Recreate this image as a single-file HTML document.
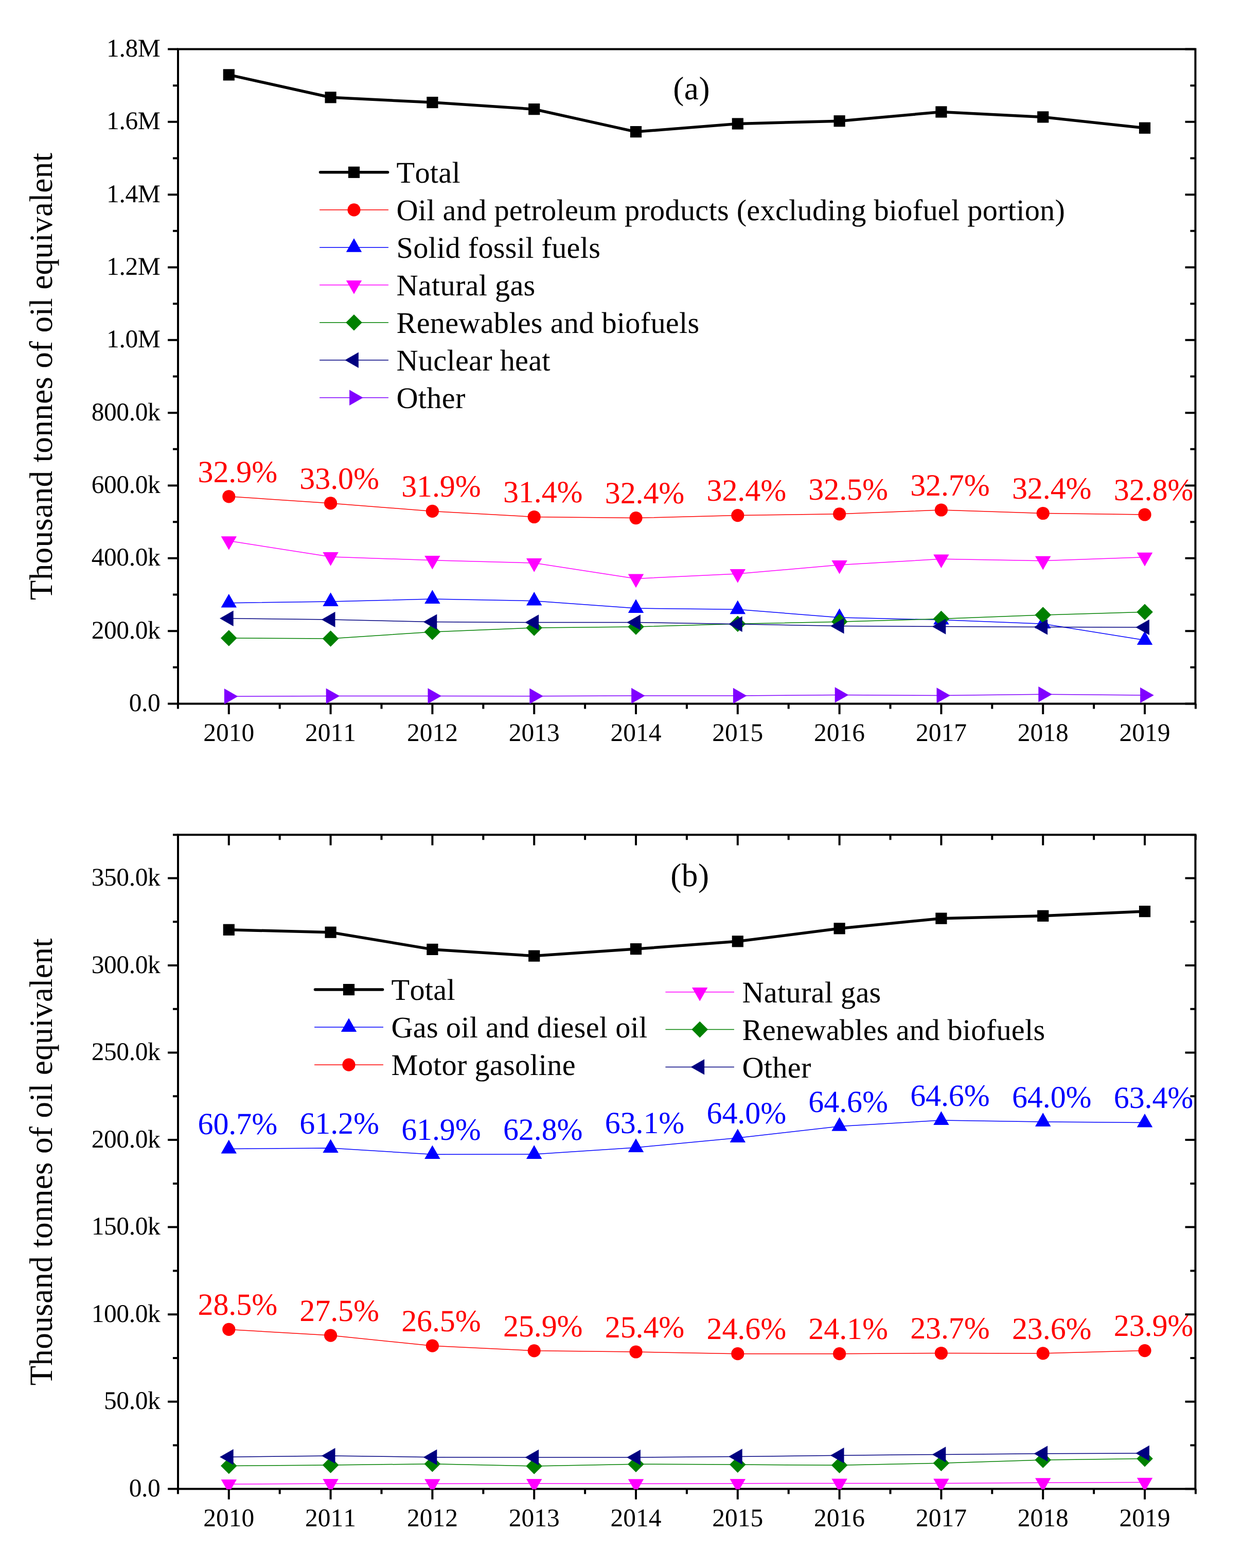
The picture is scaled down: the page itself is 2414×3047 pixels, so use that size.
<!DOCTYPE html>
<html lang="en">
<head>
<meta charset="utf-8">
<title>Energy consumption charts</title>
<style>
html,body{margin:0;padding:0;background:#fff;}
body{width:2414px;height:3047px;overflow:hidden;}
svg{display:block;}
svg text{font-kerning:none;font-variant-ligatures:none;text-rendering:geometricPrecision;font-family:"Liberation Serif","Times New Roman",Times,serif;fill:#000;}
</style>
</head>
<body>
<svg width="2414" height="3047" viewBox="0 0 2414 3047">
<rect width="2414" height="3047" fill="#fff"/>
<defs>
<clipPath id="clipA"><rect x="346.0" y="95.5" width="1977.4" height="1272.6"/></clipPath>
<clipPath id="clipB"><rect x="346.0" y="1622.2" width="1977.4" height="1271.7"/></clipPath>
</defs>
<!-- panel a -->
<g stroke="#000000" stroke-width="4.0" fill="none" stroke-linecap="butt">
<rect x="346.0" y="95.5" width="1977.4" height="1272.0" stroke-linejoin="miter"/>
<path d="M326.1 1367.5H346.0M2323.4 1367.5H2303.5"/>
<path d="M326.1 1226.2H346.0M2323.4 1226.2H2303.5"/>
<path d="M326.1 1084.8H346.0M2323.4 1084.8H2303.5"/>
<path d="M326.1 943.5H346.0M2323.4 943.5H2303.5"/>
<path d="M326.1 802.2H346.0M2323.4 802.2H2303.5"/>
<path d="M326.1 660.8H346.0M2323.4 660.8H2303.5"/>
<path d="M326.1 519.5H346.0M2323.4 519.5H2303.5"/>
<path d="M326.1 378.2H346.0M2323.4 378.2H2303.5"/>
<path d="M326.1 236.8H346.0M2323.4 236.8H2303.5"/>
<path d="M326.1 95.5H346.0M2323.4 95.5H2303.5"/>
<path d="M336.0 1296.8H346.0M2323.4 1296.8H2313.4"/>
<path d="M336.0 1155.5H346.0M2323.4 1155.5H2313.4"/>
<path d="M336.0 1014.2H346.0M2323.4 1014.2H2313.4"/>
<path d="M336.0 872.8H346.0M2323.4 872.8H2313.4"/>
<path d="M336.0 731.5H346.0M2323.4 731.5H2313.4"/>
<path d="M336.0 590.2H346.0M2323.4 590.2H2313.4"/>
<path d="M336.0 448.8H346.0M2323.4 448.8H2313.4"/>
<path d="M336.0 307.5H346.0M2323.4 307.5H2313.4"/>
<path d="M336.0 166.2H346.0M2323.4 166.2H2313.4"/>
<path d="M444.8 1367.5V1387.9"/>
<path d="M642.6 1367.5V1387.9"/>
<path d="M840.4 1367.5V1387.9"/>
<path d="M1038.2 1367.5V1387.9"/>
<path d="M1236.0 1367.5V1387.9"/>
<path d="M1433.8 1367.5V1387.9"/>
<path d="M1631.6 1367.5V1387.9"/>
<path d="M1829.4 1367.5V1387.9"/>
<path d="M2027.2 1367.5V1387.9"/>
<path d="M2225.0 1367.5V1387.9"/>
<path d="M345.9 1367.5V1377.5"/>
<path d="M543.7 1367.5V1377.5"/>
<path d="M741.5 1367.5V1377.5"/>
<path d="M939.3 1367.5V1377.5"/>
<path d="M1137.1 1367.5V1377.5"/>
<path d="M1334.9 1367.5V1377.5"/>
<path d="M1532.7 1367.5V1377.5"/>
<path d="M1730.5 1367.5V1377.5"/>
<path d="M1928.3 1367.5V1377.5"/>
<path d="M2126.1 1367.5V1377.5"/>
<path d="M2323.9 1367.5V1377.5"/>
</g>
<text x="311.4" y="1382.1" font-size="49.5" letter-spacing="-0.4" text-anchor="end">0.0</text>
<text x="311.4" y="1240.8" font-size="49.5" letter-spacing="-0.4" text-anchor="end">200.0k</text>
<text x="311.4" y="1099.4" font-size="49.5" letter-spacing="-0.4" text-anchor="end">400.0k</text>
<text x="311.4" y="958.1" font-size="49.5" letter-spacing="-0.4" text-anchor="end">600.0k</text>
<text x="311.4" y="816.8" font-size="49.5" letter-spacing="-0.4" text-anchor="end">800.0k</text>
<text x="311.4" y="675.4" font-size="49.5" letter-spacing="-0.4" text-anchor="end">1.0M</text>
<text x="311.4" y="534.1" font-size="49.5" letter-spacing="-0.4" text-anchor="end">1.2M</text>
<text x="311.4" y="392.8" font-size="49.5" letter-spacing="-0.4" text-anchor="end">1.4M</text>
<text x="311.4" y="251.4" font-size="49.5" letter-spacing="-0.4" text-anchor="end">1.6M</text>
<text x="311.4" y="110.1" font-size="49.5" letter-spacing="-0.4" text-anchor="end">1.8M</text>
<text x="444.8" y="1439.75" font-size="49.5" text-anchor="middle">2010</text>
<text x="642.6" y="1439.75" font-size="49.5" text-anchor="middle">2011</text>
<text x="840.4" y="1439.75" font-size="49.5" text-anchor="middle">2012</text>
<text x="1038.2" y="1439.75" font-size="49.5" text-anchor="middle">2013</text>
<text x="1236.0" y="1439.75" font-size="49.5" text-anchor="middle">2014</text>
<text x="1433.8" y="1439.75" font-size="49.5" text-anchor="middle">2015</text>
<text x="1631.6" y="1439.75" font-size="49.5" text-anchor="middle">2016</text>
<text x="1829.4" y="1439.75" font-size="49.5" text-anchor="middle">2017</text>
<text x="2027.2" y="1439.75" font-size="49.5" text-anchor="middle">2018</text>
<text x="2225.0" y="1439.75" font-size="49.5" text-anchor="middle">2019</text>
<text transform="translate(101.3 731.5) rotate(-90)" font-size="63.3" letter-spacing="0.245" text-anchor="middle">Thousand tonnes of oil equivalent</text>
<g clip-path="url(#clipA)">
<polyline points="444.8,145.4 642.6,189.3 840.4,199.1 1038.2,212.2 1236.0,256.1 1433.8,240.5 1631.6,235.2 1829.4,217.5 2027.2,227.4 2225.0,248.7" fill="none" stroke="#000000" stroke-width="5.5" stroke-linejoin="round"/>
<rect x="433.7" y="134.3" width="22.2" height="22.2" fill="#000000"/>
<rect x="631.5" y="178.2" width="22.2" height="22.2" fill="#000000"/>
<rect x="829.3" y="188.0" width="22.2" height="22.2" fill="#000000"/>
<rect x="1027.1" y="201.1" width="22.2" height="22.2" fill="#000000"/>
<rect x="1224.9" y="245.0" width="22.2" height="22.2" fill="#000000"/>
<rect x="1422.7" y="229.4" width="22.2" height="22.2" fill="#000000"/>
<rect x="1620.5" y="224.1" width="22.2" height="22.2" fill="#000000"/>
<rect x="1818.3" y="206.4" width="22.2" height="22.2" fill="#000000"/>
<rect x="2016.1" y="216.3" width="22.2" height="22.2" fill="#000000"/>
<rect x="2213.9" y="237.6" width="22.2" height="22.2" fill="#000000"/>
<polyline points="444.8,964.8 642.6,977.9 840.4,993.4 1038.2,1004.5 1236.0,1006.6 1433.8,1001.6 1631.6,998.8 1829.4,991.0 2027.2,997.5 2225.0,1000.0" fill="none" stroke="#FF0000" stroke-width="1.5" stroke-linejoin="round"/>
<circle cx="444.8" cy="964.8" r="12.6" fill="#FF0000"/>
<circle cx="642.6" cy="977.9" r="12.6" fill="#FF0000"/>
<circle cx="840.4" cy="993.4" r="12.6" fill="#FF0000"/>
<circle cx="1038.2" cy="1004.5" r="12.6" fill="#FF0000"/>
<circle cx="1236.0" cy="1006.6" r="12.6" fill="#FF0000"/>
<circle cx="1433.8" cy="1001.6" r="12.6" fill="#FF0000"/>
<circle cx="1631.6" cy="998.8" r="12.6" fill="#FF0000"/>
<circle cx="1829.4" cy="991.0" r="12.6" fill="#FF0000"/>
<circle cx="2027.2" cy="997.5" r="12.6" fill="#FF0000"/>
<circle cx="2225.0" cy="1000.0" r="12.6" fill="#FF0000"/>
<polyline points="444.8,1171.7 642.6,1169.0 840.4,1164.0 1038.2,1167.7 1236.0,1182.0 1433.8,1184.3 1631.6,1200.0 1829.4,1204.5 2027.2,1212.3 2225.0,1244.0" fill="none" stroke="#0000FF" stroke-width="1.5" stroke-linejoin="round"/>
<polygon points="444.8,1154.0 460.0,1180.6 429.6,1180.6" fill="#0000FF"/>
<polygon points="642.6,1151.3 657.8,1177.9 627.4,1177.9" fill="#0000FF"/>
<polygon points="840.4,1146.3 855.6,1172.9 825.2,1172.9" fill="#0000FF"/>
<polygon points="1038.2,1150.0 1053.4,1176.6 1023.0,1176.6" fill="#0000FF"/>
<polygon points="1236.0,1164.3 1251.2,1190.9 1220.8,1190.9" fill="#0000FF"/>
<polygon points="1433.8,1166.6 1449.0,1193.2 1418.6,1193.2" fill="#0000FF"/>
<polygon points="1631.6,1182.3 1646.8,1208.9 1616.4,1208.9" fill="#0000FF"/>
<polygon points="1829.4,1186.8 1844.6,1213.4 1814.2,1213.4" fill="#0000FF"/>
<polygon points="2027.2,1194.6 2042.4,1221.2 2012.0,1221.2" fill="#0000FF"/>
<polygon points="2225.0,1226.3 2240.2,1252.9 2209.8,1252.9" fill="#0000FF"/>
<polyline points="444.8,1051.1 642.6,1082.0 840.4,1088.8 1038.2,1094.0 1236.0,1124.5 1433.8,1115.0 1631.6,1097.8 1829.4,1086.3 2027.2,1089.7 2225.0,1082.7" fill="none" stroke="#FF00FF" stroke-width="1.5" stroke-linejoin="round"/>
<polygon points="444.8,1068.8 460.0,1042.2 429.6,1042.2" fill="#FF00FF"/>
<polygon points="642.6,1099.7 657.8,1073.1 627.4,1073.1" fill="#FF00FF"/>
<polygon points="840.4,1106.5 855.6,1079.9 825.2,1079.9" fill="#FF00FF"/>
<polygon points="1038.2,1111.7 1053.4,1085.1 1023.0,1085.1" fill="#FF00FF"/>
<polygon points="1236.0,1142.2 1251.2,1115.6 1220.8,1115.6" fill="#FF00FF"/>
<polygon points="1433.8,1132.7 1449.0,1106.1 1418.6,1106.1" fill="#FF00FF"/>
<polygon points="1631.6,1115.5 1646.8,1088.9 1616.4,1088.9" fill="#FF00FF"/>
<polygon points="1829.4,1104.0 1844.6,1077.4 1814.2,1077.4" fill="#FF00FF"/>
<polygon points="2027.2,1107.4 2042.4,1080.8 2012.0,1080.8" fill="#FF00FF"/>
<polygon points="2225.0,1100.4 2240.2,1073.8 2209.8,1073.8" fill="#FF00FF"/>
<polyline points="444.8,1240.0 642.6,1241.0 840.4,1227.9 1038.2,1219.9 1236.0,1218.0 1433.8,1212.3 1631.6,1208.2 1829.4,1202.5 2027.2,1195.1 2225.0,1189.3" fill="none" stroke="#008000" stroke-width="1.5" stroke-linejoin="round"/>
<polygon points="444.8,1224.2 460.6,1240.0 444.8,1255.8 429.0,1240.0" fill="#008000"/>
<polygon points="642.6,1225.2 658.4,1241.0 642.6,1256.8 626.8,1241.0" fill="#008000"/>
<polygon points="840.4,1212.1 856.2,1227.9 840.4,1243.7 824.6,1227.9" fill="#008000"/>
<polygon points="1038.2,1204.1 1054.0,1219.9 1038.2,1235.7 1022.4,1219.9" fill="#008000"/>
<polygon points="1236.0,1202.2 1251.8,1218.0 1236.0,1233.8 1220.2,1218.0" fill="#008000"/>
<polygon points="1433.8,1196.5 1449.6,1212.3 1433.8,1228.1 1418.0,1212.3" fill="#008000"/>
<polygon points="1631.6,1192.4 1647.4,1208.2 1631.6,1224.0 1615.8,1208.2" fill="#008000"/>
<polygon points="1829.4,1186.7 1845.2,1202.5 1829.4,1218.3 1813.6,1202.5" fill="#008000"/>
<polygon points="2027.2,1179.3 2043.0,1195.1 2027.2,1210.9 2011.4,1195.1" fill="#008000"/>
<polygon points="2225.0,1173.5 2240.8,1189.3 2225.0,1205.1 2209.2,1189.3" fill="#008000"/>
<polyline points="444.8,1201.8 642.6,1203.9 840.4,1208.6 1038.2,1209.5 1236.0,1209.4 1433.8,1212.7 1631.6,1216.4 1829.4,1217.6 2027.2,1218.4 2225.0,1218.9" fill="none" stroke="#000080" stroke-width="1.5" stroke-linejoin="round"/>
<polygon points="427.1,1201.8 453.7,1186.6 453.7,1217.0" fill="#000080"/>
<polygon points="624.9,1203.9 651.5,1188.7 651.5,1219.1" fill="#000080"/>
<polygon points="822.7,1208.6 849.3,1193.4 849.3,1223.8" fill="#000080"/>
<polygon points="1020.5,1209.5 1047.1,1194.3 1047.1,1224.7" fill="#000080"/>
<polygon points="1218.3,1209.4 1244.9,1194.2 1244.9,1224.6" fill="#000080"/>
<polygon points="1416.1,1212.7 1442.7,1197.5 1442.7,1227.9" fill="#000080"/>
<polygon points="1613.9,1216.4 1640.5,1201.2 1640.5,1231.6" fill="#000080"/>
<polygon points="1811.7,1217.6 1838.3,1202.4 1838.3,1232.8" fill="#000080"/>
<polygon points="2009.5,1218.4 2036.1,1203.2 2036.1,1233.6" fill="#000080"/>
<polygon points="2207.3,1218.9 2233.9,1203.7 2233.9,1234.1" fill="#000080"/>
<polyline points="444.8,1353.3 642.6,1352.6 840.4,1352.4 1038.2,1352.8 1236.0,1352.0 1433.8,1352.0 1631.6,1350.4 1829.4,1351.4 2027.2,1349.3 2225.0,1350.9" fill="none" stroke="#8000FF" stroke-width="1.5" stroke-linejoin="round"/>
<polygon points="462.5,1353.3 435.9,1338.1 435.9,1368.5" fill="#8000FF"/>
<polygon points="660.3,1352.6 633.7,1337.4 633.7,1367.8" fill="#8000FF"/>
<polygon points="858.1,1352.4 831.5,1337.2 831.5,1367.6" fill="#8000FF"/>
<polygon points="1055.9,1352.8 1029.3,1337.6 1029.3,1368.0" fill="#8000FF"/>
<polygon points="1253.7,1352.0 1227.1,1336.8 1227.1,1367.2" fill="#8000FF"/>
<polygon points="1451.5,1352.0 1424.9,1336.8 1424.9,1367.2" fill="#8000FF"/>
<polygon points="1649.3,1350.4 1622.7,1335.2 1622.7,1365.6" fill="#8000FF"/>
<polygon points="1847.1,1351.4 1820.5,1336.2 1820.5,1366.6" fill="#8000FF"/>
<polygon points="2044.9,1349.3 2018.3,1334.1 2018.3,1364.5" fill="#8000FF"/>
<polygon points="2242.7,1350.9 2216.1,1335.7 2216.1,1366.1" fill="#8000FF"/>
</g>
<text x="461.8" y="936.5" font-size="60.0" letter-spacing="-0.1" style="fill:#FF0000" text-anchor="middle">32.9%</text>
<text x="659.6" y="949.6" font-size="60.0" letter-spacing="-0.1" style="fill:#FF0000" text-anchor="middle">33.0%</text>
<text x="857.4" y="965.1" font-size="60.0" letter-spacing="-0.1" style="fill:#FF0000" text-anchor="middle">31.9%</text>
<text x="1055.2" y="976.2" font-size="60.0" letter-spacing="-0.1" style="fill:#FF0000" text-anchor="middle">31.4%</text>
<text x="1253.0" y="978.3" font-size="60.0" letter-spacing="-0.1" style="fill:#FF0000" text-anchor="middle">32.4%</text>
<text x="1450.8" y="973.3" font-size="60.0" letter-spacing="-0.1" style="fill:#FF0000" text-anchor="middle">32.4%</text>
<text x="1648.6" y="970.5" font-size="60.0" letter-spacing="-0.1" style="fill:#FF0000" text-anchor="middle">32.5%</text>
<text x="1846.4" y="962.7" font-size="60.0" letter-spacing="-0.1" style="fill:#FF0000" text-anchor="middle">32.7%</text>
<text x="2044.2" y="969.2" font-size="60.0" letter-spacing="-0.1" style="fill:#FF0000" text-anchor="middle">32.4%</text>
<text x="2242.0" y="971.7" font-size="60.0" letter-spacing="-0.1" style="fill:#FF0000" text-anchor="middle">32.8%</text>
<line x1="622.5" y1="334.8" x2="753.6" y2="334.8" stroke="#000000" stroke-width="5.5" stroke-linecap="round"/>
<rect x="676.9" y="323.7" width="22.2" height="22.2" fill="#000000"/>
<text x="770.5" y="355.0" font-size="58.33" letter-spacing="0.25">Total</text>
<line x1="621.1" y1="407.8" x2="755.0" y2="407.8" stroke="#FF0000" stroke-width="1.5"/>
<circle cx="688.0" cy="407.8" r="12.6" fill="#FF0000"/>
<text x="770.5" y="428.0" font-size="58.33" letter-spacing="0.25">Oil and petroleum products (excluding biofuel portion)</text>
<line x1="621.1" y1="480.8" x2="755.0" y2="480.8" stroke="#0000FF" stroke-width="1.5"/>
<polygon points="688.0,463.1 703.2,489.7 672.8,489.7" fill="#0000FF"/>
<text x="770.5" y="501.0" font-size="58.33" letter-spacing="0.25">Solid fossil fuels</text>
<line x1="621.1" y1="553.8" x2="755.0" y2="553.8" stroke="#FF00FF" stroke-width="1.5"/>
<polygon points="688.0,571.5 703.2,544.9 672.8,544.9" fill="#FF00FF"/>
<text x="770.5" y="574.0" font-size="58.33" letter-spacing="0.25">Natural gas</text>
<line x1="621.1" y1="626.8" x2="755.0" y2="626.8" stroke="#008000" stroke-width="1.5"/>
<polygon points="688.0,611.0 703.8,626.8 688.0,642.6 672.2,626.8" fill="#008000"/>
<text x="770.5" y="647.0" font-size="58.33" letter-spacing="0.25">Renewables and biofuels</text>
<line x1="621.1" y1="699.8" x2="755.0" y2="699.8" stroke="#000080" stroke-width="1.5"/>
<polygon points="670.3,699.8 696.9,684.6 696.9,715.0" fill="#000080"/>
<text x="770.5" y="720.0" font-size="58.33" letter-spacing="0.25">Nuclear heat</text>
<line x1="621.1" y1="772.8" x2="755.0" y2="772.8" stroke="#8000FF" stroke-width="1.5"/>
<polygon points="705.8,772.8 679.1,757.6 679.1,788.0" fill="#8000FF"/>
<text x="770.5" y="793.0" font-size="58.33" letter-spacing="0.25">Other</text>
<text x="1308.2" y="192.5" font-size="63.3" letter-spacing="0.6">(a)</text>
<!-- panel b -->
<g stroke="#000000" stroke-width="4.0" fill="none" stroke-linecap="butt">
<rect x="346.0" y="1622.2" width="1977.4" height="1271.1" stroke-linejoin="miter"/>
<path d="M326.1 2893.3H346.0M2323.4 2893.3H2303.5"/>
<path d="M326.1 2723.7H346.0M2323.4 2723.7H2303.5"/>
<path d="M326.1 2554.2H346.0M2323.4 2554.2H2303.5"/>
<path d="M326.1 2384.6H346.0M2323.4 2384.6H2303.5"/>
<path d="M326.1 2215.1H346.0M2323.4 2215.1H2303.5"/>
<path d="M326.1 2045.5H346.0M2323.4 2045.5H2303.5"/>
<path d="M326.1 1876.0H346.0M2323.4 1876.0H2303.5"/>
<path d="M326.1 1706.4H346.0M2323.4 1706.4H2303.5"/>
<path d="M336.0 2808.5H346.0M2323.4 2808.5H2313.4"/>
<path d="M336.0 2639.0H346.0M2323.4 2639.0H2313.4"/>
<path d="M336.0 2469.4H346.0M2323.4 2469.4H2313.4"/>
<path d="M336.0 2299.9H346.0M2323.4 2299.9H2313.4"/>
<path d="M336.0 2130.3H346.0M2323.4 2130.3H2313.4"/>
<path d="M336.0 1960.7H346.0M2323.4 1960.7H2313.4"/>
<path d="M336.0 1791.2H346.0M2323.4 1791.2H2313.4"/>
<path d="M336.0 1622.2H346.0M2323.4 1622.2H2313.4"/>
<path d="M444.8 2893.3V2913.7"/>
<path d="M444.8 1622.2V1642.6"/>
<path d="M642.6 2893.3V2913.7"/>
<path d="M642.6 1622.2V1642.6"/>
<path d="M840.4 2893.3V2913.7"/>
<path d="M840.4 1622.2V1642.6"/>
<path d="M1038.2 2893.3V2913.7"/>
<path d="M1038.2 1622.2V1642.6"/>
<path d="M1236.0 2893.3V2913.7"/>
<path d="M1236.0 1622.2V1642.6"/>
<path d="M1433.8 2893.3V2913.7"/>
<path d="M1433.8 1622.2V1642.6"/>
<path d="M1631.6 2893.3V2913.7"/>
<path d="M1631.6 1622.2V1642.6"/>
<path d="M1829.4 2893.3V2913.7"/>
<path d="M1829.4 1622.2V1642.6"/>
<path d="M2027.2 2893.3V2913.7"/>
<path d="M2027.2 1622.2V1642.6"/>
<path d="M2225.0 2893.3V2913.7"/>
<path d="M2225.0 1622.2V1642.6"/>
<path d="M345.9 2893.3V2903.3"/>
<path d="M345.9 1622.2V1632.2"/>
<path d="M543.7 2893.3V2903.3"/>
<path d="M543.7 1622.2V1632.2"/>
<path d="M741.5 2893.3V2903.3"/>
<path d="M741.5 1622.2V1632.2"/>
<path d="M939.3 2893.3V2903.3"/>
<path d="M939.3 1622.2V1632.2"/>
<path d="M1137.1 2893.3V2903.3"/>
<path d="M1137.1 1622.2V1632.2"/>
<path d="M1334.9 2893.3V2903.3"/>
<path d="M1334.9 1622.2V1632.2"/>
<path d="M1532.7 2893.3V2903.3"/>
<path d="M1532.7 1622.2V1632.2"/>
<path d="M1730.5 2893.3V2903.3"/>
<path d="M1730.5 1622.2V1632.2"/>
<path d="M1928.3 2893.3V2903.3"/>
<path d="M1928.3 1622.2V1632.2"/>
<path d="M2126.1 2893.3V2903.3"/>
<path d="M2126.1 1622.2V1632.2"/>
<path d="M2323.9 2893.3V2903.3"/>
<path d="M2323.9 1622.2V1632.2"/>
</g>
<text x="311.4" y="2907.9" font-size="49.5" letter-spacing="-0.4" text-anchor="end">0.0</text>
<text x="311.4" y="2738.3" font-size="49.5" letter-spacing="-0.4" text-anchor="end">50.0k</text>
<text x="311.4" y="2568.8" font-size="49.5" letter-spacing="-0.4" text-anchor="end">100.0k</text>
<text x="311.4" y="2399.2" font-size="49.5" letter-spacing="-0.4" text-anchor="end">150.0k</text>
<text x="311.4" y="2229.7" font-size="49.5" letter-spacing="-0.4" text-anchor="end">200.0k</text>
<text x="311.4" y="2060.1" font-size="49.5" letter-spacing="-0.4" text-anchor="end">250.0k</text>
<text x="311.4" y="1890.6" font-size="49.5" letter-spacing="-0.4" text-anchor="end">300.0k</text>
<text x="311.4" y="1721.0" font-size="49.5" letter-spacing="-0.4" text-anchor="end">350.0k</text>
<text x="444.8" y="2965.55" font-size="49.5" text-anchor="middle">2010</text>
<text x="642.6" y="2965.55" font-size="49.5" text-anchor="middle">2011</text>
<text x="840.4" y="2965.55" font-size="49.5" text-anchor="middle">2012</text>
<text x="1038.2" y="2965.55" font-size="49.5" text-anchor="middle">2013</text>
<text x="1236.0" y="2965.55" font-size="49.5" text-anchor="middle">2014</text>
<text x="1433.8" y="2965.55" font-size="49.5" text-anchor="middle">2015</text>
<text x="1631.6" y="2965.55" font-size="49.5" text-anchor="middle">2016</text>
<text x="1829.4" y="2965.55" font-size="49.5" text-anchor="middle">2017</text>
<text x="2027.2" y="2965.55" font-size="49.5" text-anchor="middle">2018</text>
<text x="2225.0" y="2965.55" font-size="49.5" text-anchor="middle">2019</text>
<text transform="translate(101.3 2257.8) rotate(-90)" font-size="63.3" letter-spacing="0.245" text-anchor="middle">Thousand tonnes of oil equivalent</text>
<g clip-path="url(#clipB)">
<polyline points="444.8,1806.8 642.6,1811.7 840.4,1844.9 1038.2,1857.6 1236.0,1844.1 1433.8,1829.3 1631.6,1804.3 1829.4,1784.7 2027.2,1779.8 2225.0,1771.1" fill="none" stroke="#000000" stroke-width="5.5" stroke-linejoin="round"/>
<rect x="433.7" y="1795.7" width="22.2" height="22.2" fill="#000000"/>
<rect x="631.5" y="1800.6" width="22.2" height="22.2" fill="#000000"/>
<rect x="829.3" y="1833.8" width="22.2" height="22.2" fill="#000000"/>
<rect x="1027.1" y="1846.5" width="22.2" height="22.2" fill="#000000"/>
<rect x="1224.9" y="1833.0" width="22.2" height="22.2" fill="#000000"/>
<rect x="1422.7" y="1818.2" width="22.2" height="22.2" fill="#000000"/>
<rect x="1620.5" y="1793.2" width="22.2" height="22.2" fill="#000000"/>
<rect x="1818.3" y="1773.6" width="22.2" height="22.2" fill="#000000"/>
<rect x="2016.1" y="1768.7" width="22.2" height="22.2" fill="#000000"/>
<rect x="2213.9" y="1760.0" width="22.2" height="22.2" fill="#000000"/>
<polyline points="444.8,2232.5 642.6,2231.1 840.4,2243.2 1038.2,2243.0 1236.0,2230.0 1433.8,2211.2 1631.6,2188.8 1829.4,2177.0 2027.2,2180.0 2225.0,2181.6" fill="none" stroke="#0000FF" stroke-width="1.5" stroke-linejoin="round"/>
<polygon points="444.8,2214.8 460.0,2241.4 429.6,2241.4" fill="#0000FF"/>
<polygon points="642.6,2213.4 657.8,2240.0 627.4,2240.0" fill="#0000FF"/>
<polygon points="840.4,2225.5 855.6,2252.1 825.2,2252.1" fill="#0000FF"/>
<polygon points="1038.2,2225.3 1053.4,2251.9 1023.0,2251.9" fill="#0000FF"/>
<polygon points="1236.0,2212.3 1251.2,2238.9 1220.8,2238.9" fill="#0000FF"/>
<polygon points="1433.8,2193.5 1449.0,2220.1 1418.6,2220.1" fill="#0000FF"/>
<polygon points="1631.6,2171.1 1646.8,2197.7 1616.4,2197.7" fill="#0000FF"/>
<polygon points="1829.4,2159.3 1844.6,2185.9 1814.2,2185.9" fill="#0000FF"/>
<polygon points="2027.2,2162.3 2042.4,2188.9 2012.0,2188.9" fill="#0000FF"/>
<polygon points="2225.0,2163.9 2240.2,2190.5 2209.8,2190.5" fill="#0000FF"/>
<polyline points="444.8,2583.4 642.6,2595.1 840.4,2615.2 1038.2,2624.8 1236.0,2627.0 1433.8,2630.7 1631.6,2630.7 1829.4,2629.5 2027.2,2629.9 2225.0,2624.6" fill="none" stroke="#FF0000" stroke-width="1.5" stroke-linejoin="round"/>
<circle cx="444.8" cy="2583.4" r="12.6" fill="#FF0000"/>
<circle cx="642.6" cy="2595.1" r="12.6" fill="#FF0000"/>
<circle cx="840.4" cy="2615.2" r="12.6" fill="#FF0000"/>
<circle cx="1038.2" cy="2624.8" r="12.6" fill="#FF0000"/>
<circle cx="1236.0" cy="2627.0" r="12.6" fill="#FF0000"/>
<circle cx="1433.8" cy="2630.7" r="12.6" fill="#FF0000"/>
<circle cx="1631.6" cy="2630.7" r="12.6" fill="#FF0000"/>
<circle cx="1829.4" cy="2629.5" r="12.6" fill="#FF0000"/>
<circle cx="2027.2" cy="2629.9" r="12.6" fill="#FF0000"/>
<circle cx="2225.0" cy="2624.6" r="12.6" fill="#FF0000"/>
<polyline points="444.8,2884.0 642.6,2883.0 840.4,2883.2 1038.2,2882.8 1236.0,2883.2 1433.8,2882.8 1631.6,2882.4 1829.4,2882.4 2027.2,2881.2 2225.0,2880.6" fill="none" stroke="#FF00FF" stroke-width="1.5" stroke-linejoin="round"/>
<polygon points="444.8,2901.7 460.0,2875.1 429.6,2875.1" fill="#FF00FF"/>
<polygon points="642.6,2900.7 657.8,2874.1 627.4,2874.1" fill="#FF00FF"/>
<polygon points="840.4,2900.9 855.6,2874.3 825.2,2874.3" fill="#FF00FF"/>
<polygon points="1038.2,2900.5 1053.4,2873.9 1023.0,2873.9" fill="#FF00FF"/>
<polygon points="1236.0,2900.9 1251.2,2874.3 1220.8,2874.3" fill="#FF00FF"/>
<polygon points="1433.8,2900.5 1449.0,2873.9 1418.6,2873.9" fill="#FF00FF"/>
<polygon points="1631.6,2900.1 1646.8,2873.5 1616.4,2873.5" fill="#FF00FF"/>
<polygon points="1829.4,2900.1 1844.6,2873.5 1814.2,2873.5" fill="#FF00FF"/>
<polygon points="2027.2,2898.9 2042.4,2872.3 2012.0,2872.3" fill="#FF00FF"/>
<polygon points="2225.0,2898.3 2240.2,2871.7 2209.8,2871.7" fill="#FF00FF"/>
<polyline points="444.8,2848.5 642.6,2846.9 840.4,2844.8 1038.2,2848.9 1236.0,2845.2 1433.8,2846.1 1631.6,2847.3 1829.4,2843.2 2027.2,2837.0 2225.0,2834.6" fill="none" stroke="#008000" stroke-width="1.5" stroke-linejoin="round"/>
<polygon points="444.8,2832.7 460.6,2848.5 444.8,2864.3 429.0,2848.5" fill="#008000"/>
<polygon points="642.6,2831.1 658.4,2846.9 642.6,2862.7 626.8,2846.9" fill="#008000"/>
<polygon points="840.4,2829.0 856.2,2844.8 840.4,2860.6 824.6,2844.8" fill="#008000"/>
<polygon points="1038.2,2833.1 1054.0,2848.9 1038.2,2864.7 1022.4,2848.9" fill="#008000"/>
<polygon points="1236.0,2829.4 1251.8,2845.2 1236.0,2861.0 1220.2,2845.2" fill="#008000"/>
<polygon points="1433.8,2830.3 1449.6,2846.1 1433.8,2861.9 1418.0,2846.1" fill="#008000"/>
<polygon points="1631.6,2831.5 1647.4,2847.3 1631.6,2863.1 1615.8,2847.3" fill="#008000"/>
<polygon points="1829.4,2827.4 1845.2,2843.2 1829.4,2859.0 1813.6,2843.2" fill="#008000"/>
<polygon points="2027.2,2821.2 2043.0,2837.0 2027.2,2852.8 2011.4,2837.0" fill="#008000"/>
<polygon points="2225.0,2818.8 2240.8,2834.6 2225.0,2850.4 2209.2,2834.6" fill="#008000"/>
<polyline points="444.8,2831.3 642.6,2828.9 840.4,2831.7 1038.2,2832.0 1236.0,2832.1 1433.8,2830.5 1631.6,2828.2 1829.4,2826.4 2027.2,2824.8 2225.0,2823.9" fill="none" stroke="#000080" stroke-width="1.5" stroke-linejoin="round"/>
<polygon points="427.1,2831.3 453.7,2816.1 453.7,2846.5" fill="#000080"/>
<polygon points="624.9,2828.9 651.5,2813.7 651.5,2844.1" fill="#000080"/>
<polygon points="822.7,2831.7 849.3,2816.5 849.3,2846.9" fill="#000080"/>
<polygon points="1020.5,2832.0 1047.1,2816.8 1047.1,2847.2" fill="#000080"/>
<polygon points="1218.3,2832.1 1244.9,2816.9 1244.9,2847.3" fill="#000080"/>
<polygon points="1416.1,2830.5 1442.7,2815.3 1442.7,2845.7" fill="#000080"/>
<polygon points="1613.9,2828.2 1640.5,2813.0 1640.5,2843.4" fill="#000080"/>
<polygon points="1811.7,2826.4 1838.3,2811.2 1838.3,2841.6" fill="#000080"/>
<polygon points="2009.5,2824.8 2036.1,2809.6 2036.1,2840.0" fill="#000080"/>
<polygon points="2207.3,2823.9 2233.9,2808.7 2233.9,2839.1" fill="#000080"/>
</g>
<text x="461.8" y="2204.2" font-size="60.0" letter-spacing="-0.1" style="fill:#0000FF" text-anchor="middle">60.7%</text>
<text x="659.6" y="2202.8" font-size="60.0" letter-spacing="-0.1" style="fill:#0000FF" text-anchor="middle">61.2%</text>
<text x="857.4" y="2214.9" font-size="60.0" letter-spacing="-0.1" style="fill:#0000FF" text-anchor="middle">61.9%</text>
<text x="1055.2" y="2214.7" font-size="60.0" letter-spacing="-0.1" style="fill:#0000FF" text-anchor="middle">62.8%</text>
<text x="1253.0" y="2201.7" font-size="60.0" letter-spacing="-0.1" style="fill:#0000FF" text-anchor="middle">63.1%</text>
<text x="1450.8" y="2182.9" font-size="60.0" letter-spacing="-0.1" style="fill:#0000FF" text-anchor="middle">64.0%</text>
<text x="1648.6" y="2160.5" font-size="60.0" letter-spacing="-0.1" style="fill:#0000FF" text-anchor="middle">64.6%</text>
<text x="1846.4" y="2148.7" font-size="60.0" letter-spacing="-0.1" style="fill:#0000FF" text-anchor="middle">64.6%</text>
<text x="2044.2" y="2151.7" font-size="60.0" letter-spacing="-0.1" style="fill:#0000FF" text-anchor="middle">64.0%</text>
<text x="2242.0" y="2153.3" font-size="60.0" letter-spacing="-0.1" style="fill:#0000FF" text-anchor="middle">63.4%</text>
<text x="461.8" y="2555.1" font-size="60.0" letter-spacing="-0.1" style="fill:#FF0000" text-anchor="middle">28.5%</text>
<text x="659.6" y="2566.8" font-size="60.0" letter-spacing="-0.1" style="fill:#FF0000" text-anchor="middle">27.5%</text>
<text x="857.4" y="2586.9" font-size="60.0" letter-spacing="-0.1" style="fill:#FF0000" text-anchor="middle">26.5%</text>
<text x="1055.2" y="2596.5" font-size="60.0" letter-spacing="-0.1" style="fill:#FF0000" text-anchor="middle">25.9%</text>
<text x="1253.0" y="2598.7" font-size="60.0" letter-spacing="-0.1" style="fill:#FF0000" text-anchor="middle">25.4%</text>
<text x="1450.8" y="2602.4" font-size="60.0" letter-spacing="-0.1" style="fill:#FF0000" text-anchor="middle">24.6%</text>
<text x="1648.6" y="2602.4" font-size="60.0" letter-spacing="-0.1" style="fill:#FF0000" text-anchor="middle">24.1%</text>
<text x="1846.4" y="2601.2" font-size="60.0" letter-spacing="-0.1" style="fill:#FF0000" text-anchor="middle">23.7%</text>
<text x="2044.2" y="2601.6" font-size="60.0" letter-spacing="-0.1" style="fill:#FF0000" text-anchor="middle">23.6%</text>
<text x="2242.0" y="2596.3" font-size="60.0" letter-spacing="-0.1" style="fill:#FF0000" text-anchor="middle">23.9%</text>
<line x1="612.5" y1="1923.1" x2="743.6" y2="1923.1" stroke="#000000" stroke-width="5.5" stroke-linecap="round"/>
<rect x="666.9" y="1912.0" width="22.2" height="22.2" fill="#000000"/>
<text x="760.5" y="1943.3" font-size="58.33" letter-spacing="0.25">Total</text>
<line x1="611.1" y1="1996.1" x2="745.0" y2="1996.1" stroke="#0000FF" stroke-width="1.5"/>
<polygon points="678.0,1978.4 693.2,2005.0 662.8,2005.0" fill="#0000FF"/>
<text x="760.5" y="2016.3" font-size="58.33" letter-spacing="0.25">Gas oil and diesel oil</text>
<line x1="611.1" y1="2069.2" x2="745.0" y2="2069.2" stroke="#FF0000" stroke-width="1.5"/>
<circle cx="678.0" cy="2069.2" r="12.6" fill="#FF0000"/>
<text x="760.5" y="2089.4" font-size="58.33" letter-spacing="0.25">Motor gasoline</text>
<line x1="1293.4" y1="1927.8" x2="1426.9" y2="1927.8" stroke="#FF00FF" stroke-width="1.5"/>
<polygon points="1360.2,1945.5 1375.4,1918.9 1345.0,1918.9" fill="#FF00FF"/>
<text x="1442.5" y="1948.0" font-size="58.33" letter-spacing="0.25">Natural gas</text>
<line x1="1293.4" y1="2000.6" x2="1426.9" y2="2000.6" stroke="#008000" stroke-width="1.5"/>
<polygon points="1360.2,1984.8 1376.0,2000.6 1360.2,2016.4 1344.4,2000.6" fill="#008000"/>
<text x="1442.5" y="2020.8" font-size="58.33" letter-spacing="0.25">Renewables and biofuels</text>
<line x1="1293.4" y1="2073.4" x2="1426.9" y2="2073.4" stroke="#000080" stroke-width="1.5"/>
<polygon points="1342.5,2073.4 1369.1,2058.2 1369.1,2088.6" fill="#000080"/>
<text x="1442.5" y="2093.6" font-size="58.33" letter-spacing="0.25">Other</text>
<text x="1303.2" y="1722" font-size="63.3" letter-spacing="0.6">(b)</text>
</svg>
</body>
</html>
